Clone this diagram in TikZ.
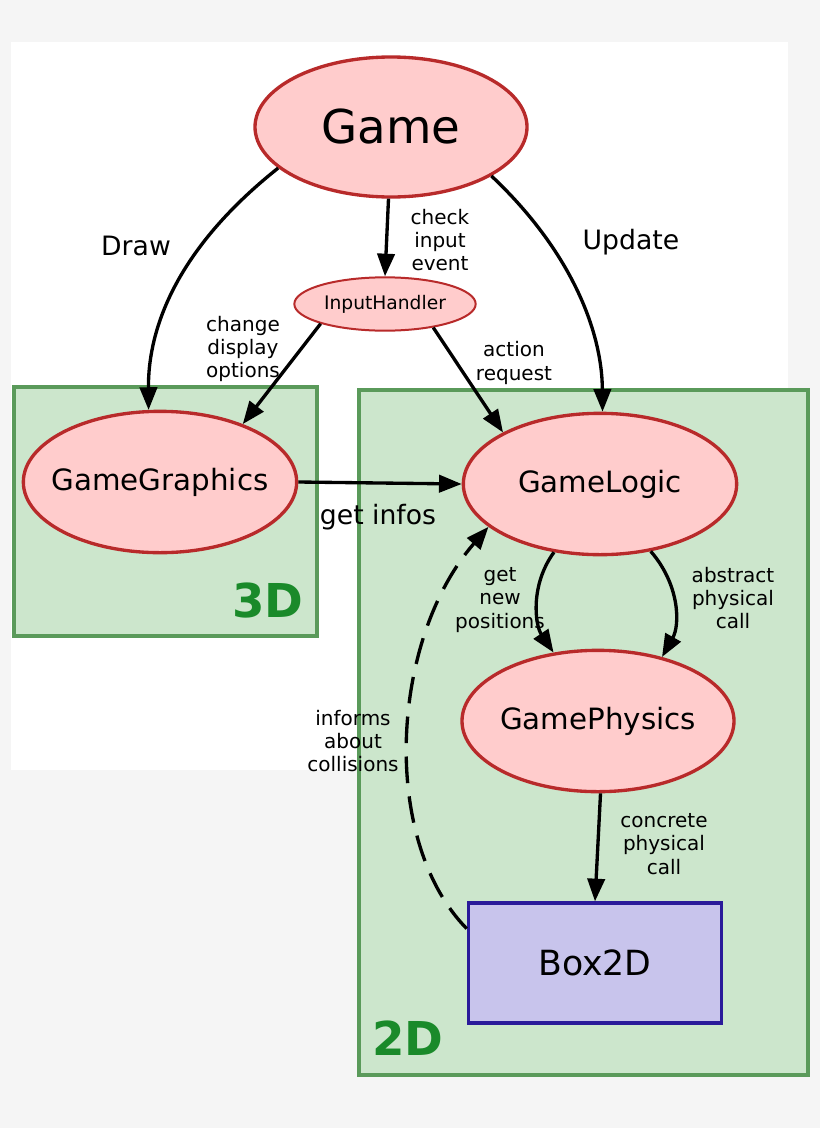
\documentclass[tikz,border=0pt]{standalone}
\usepackage{fontspec}
\setmainfont{DejaVu Sans}
\usetikzlibrary{arrows.meta,shapes.geometric}
\definecolor{bgray}{HTML}{F5F5F5}
\definecolor{efill}{HTML}{FFCCCC}
\definecolor{edraw}{HTML}{B82A2A}
\definecolor{gfill}{HTML}{CCE6CC}
\definecolor{gdraw}{HTML}{5A9A5A}
\definecolor{gtext}{HTML}{1A8A2A}
\definecolor{bfill}{HTML}{C8C4EC}
\definecolor{bdraw}{HTML}{2A1A9A}
\tikzset{
 ell/.style={ellipse,draw=edraw,fill=efill,line width=2.5pt,inner xsep=-14pt,inner ysep=0pt},
 conn/.style={line width=2.5pt,-{Triangle[length=17pt,width=13pt]}},
 lab/.style={font=\fontsize{15}{17.5}\selectfont,align=center},
 biglab/.style={font=\fontsize{20}{23}\selectfont},
 zone/.style={draw=gdraw,fill=gfill,line width=2.5pt},
 zlab/.style={font=\fontsize{35}{40}\selectfont\bfseries,text=gtext}
}
\begin{document}
\begin{tikzpicture}[x=0.75pt,y=-0.75pt]
\fill[bgray] (0,0) rectangle (820,1128);
\useasboundingbox (0,0) rectangle (820,1128);
\fill[white] (11,42) rectangle (788,770);
\draw[zone] (14,387) rectangle (317,636);
\draw[zone] (359,390) rectangle (808,1075);
\node[zlab] (l3d) at (268,601) {3D};
\node[zlab] (l2d) at (408,1038) {2D};
\node[ell,minimum width=204pt,minimum height=105pt,font=\fontsize{35}{38}\selectfont] (game) at (391,127) {Game};
\node[ell,inner xsep=-4pt,line width=1.5pt,minimum width=136pt,minimum height=40pt,font=\fontsize{14}{16}\selectfont] (ih) at (385,304) {InputHandler};
\node[ell,minimum width=205pt,minimum height=106pt,font=\fontsize{22}{25}\selectfont] (gg) at (160,482) {GameGraphics};
\node[ell,minimum width=205pt,minimum height=106pt,font=\fontsize{22}{25}\selectfont] (gl) at (600,484) {GameLogic};
\node[ell,minimum width=204pt,minimum height=106pt,font=\fontsize{22}{25}\selectfont] (gp) at (598,721) {GamePhysics};
\node[rectangle,draw=bdraw,fill=bfill,line width=2.5pt,minimum width=190pt,minimum height=90pt,font=\fontsize{26}{30}\selectfont] (box) at (595,963) {Box2D};

\draw[conn] (game.200) .. controls (175,250) and (148,330) .. (gg.99);
\draw[conn] (game.268) -- (ih.90);
\draw[conn] (game.334) .. controls (570,250) and (602,330) .. (gl.88);
\draw[conn] (ih.197) -- (gg.35);
\draw[conn] (ih.334) -- (gl.152);
\draw[conn] (gg.east) -- (gl.west);
\draw[conn] (gl.236) .. controls (530,585) and (535,625) .. (gp.123);
\draw[conn] (gl.307) .. controls (680,585) and (680,625) .. (gp.45);
\draw[conn] (gp.272) -- (box.north);
\draw[conn,dashed,dash pattern=on 20pt off 10pt] (box.165) .. controls (380,840) and (390,640) .. (gl.201);

\node[biglab] (tdraw) at (136,246) {Draw};
\node[biglab] (tupd) at (631,242) {Update};
\node[biglab] (tinfo) at (378,517) {get infos};
\node[lab] (tcheck) at (440,240) {check\\input\\event};
\node[lab] (tchg) at (243,349) {change\\display\\options};
\node[lab] (tact) at (514,363) {action\\request};
\node[lab] (tnew) at (500,600) {get\\new\\positions};
\node[lab] (tabs) at (733,598) {abstract\\physical\\call};
\node[lab] (tcon) at (664,844) {concrete\\physical\\call};
\node[lab] (tinf) at (353,741) {informs\\about\\collisions};
\end{tikzpicture}
\end{document}
